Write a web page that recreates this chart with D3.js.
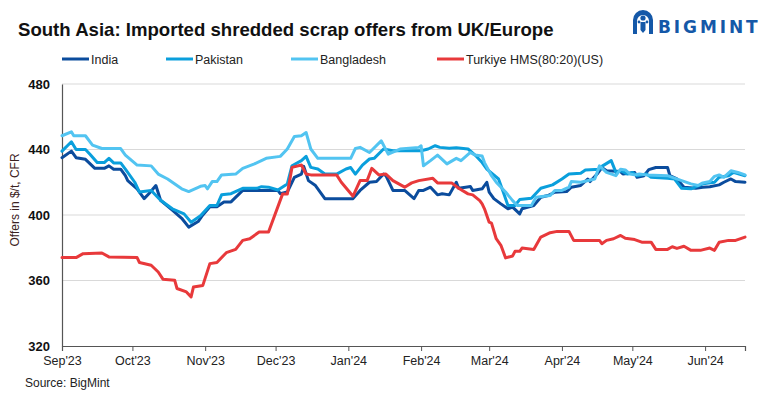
<!DOCTYPE html>
<html>
<head>
<meta charset="utf-8">
<script src="https://cdn.jsdelivr.net/npm/d3@7"></script>
<style>
  body { margin: 0; background: #fff; }
  svg { display: block; }
</style>
</head>
<body>
<svg width="768" height="398"></svg>
<script>
// series values, [date, $/t]
const india = [
  ["2023-09-01",435],["2023-09-05",439],["2023-09-07",435],["2023-09-11",434],["2023-09-15",428.5],
  ["2023-09-19",428.5],["2023-09-21",430],["2023-09-23",428],["2023-09-26",428],["2023-09-28",424],
  ["2023-09-29",421],["2023-10-03",416],["2023-10-06",410],["2023-10-08",413],["2023-10-11",418],
  ["2023-10-13",409],["2023-10-18",403],["2023-10-22",398],["2023-10-25",392.6],["2023-10-29",396],
  ["2023-10-31",400],["2023-11-03",405],["2023-11-06",405],["2023-11-09",408],["2023-11-12",408],
  ["2023-11-17",415],["2023-11-22",415],["2023-12-02",415],["2023-12-03",413],["2023-12-06",414],
  ["2023-12-09",423],["2023-12-12",425],["2023-12-13",429.7],["2023-12-15",421],["2023-12-18",418],
  ["2023-12-22",410],["2023-12-31",410],["2024-01-03",410],["2024-01-06",415],["2024-01-10",420],
  ["2024-01-13",420.4],["2024-01-16",425],["2024-01-17",424],["2024-01-20",415],["2024-01-25",415],
  ["2024-01-29",410],["2024-01-31",415],["2024-02-02",415],["2024-02-05",417],["2024-02-08",412.3],
  ["2024-02-10",413],["2024-02-13",412.3],["2024-02-16",420],["2024-02-17",416.3],["2024-02-20",417],
  ["2024-02-22",417.4],["2024-02-23",415],["2024-02-27",416],["2024-02-29",420],["2024-03-01",414],
  ["2024-03-03",410],["2024-03-06",406.8],["2024-03-09",403.8],["2024-03-11",404.8],["2024-03-14",400.7],
  ["2024-03-15",403.8],["2024-03-20",405.8],["2024-03-23",410.8],["2024-03-26",411.9],["2024-03-29",413.9],
  ["2024-04-03",414.3],["2024-04-05",417],["2024-04-09",418],["2024-04-12",422],["2024-04-13",420.4],
  ["2024-04-16",425],["2024-04-18",429],["2024-04-20",427],["2024-04-26",426.5],["2024-04-27",425],
  ["2024-05-02",426],["2024-05-03",423],["2024-05-06",424],["2024-05-08",427.7],["2024-05-11",429],
  ["2024-05-16",429],["2024-05-17",424],["2024-05-20",422],["2024-05-23",417],["2024-05-28",416.3],
  ["2024-05-31",417],["2024-06-03",417.3],["2024-06-07",418.4],["2024-06-09",420],["2024-06-12",422],
  ["2024-06-14",420.4],["2024-06-18",420]
];

const pakistan = [
  ["2023-09-01",439],["2023-09-05",444.7],["2023-09-07",440],["2023-09-11",440],["2023-09-13",437],
  ["2023-09-16",432],["2023-09-19",432],["2023-09-21",434.6],["2023-09-23",431.8],["2023-09-26",431.8],
  ["2023-09-28",428],["2023-10-02",420],["2023-10-04",414],["2023-10-09",415],["2023-10-13",409],
  ["2023-10-18",403.8],["2023-10-23",400.7],["2023-10-26",395.6],["2023-10-30",399.5],["2023-11-03",405.8],
  ["2023-11-06",405.8],["2023-11-08",412.3],["2023-11-12",413],["2023-11-17",416.3],["2023-11-23",416.3],
  ["2023-11-25",417.3],["2023-11-28",417],["2023-12-02",415.3],["2023-12-06",419],["2023-12-08",430.1],
  ["2023-12-12",433.2],["2023-12-14",435.8],["2023-12-16",429.1],["2023-12-19",428.1],["2023-12-22",425],
  ["2023-12-27",425],["2023-12-31",428.1],["2024-01-02",429],["2024-01-04",425],["2024-01-07",430.5],
  ["2024-01-10",434.2],["2024-01-12",434.6],["2024-01-16",440.3],["2024-01-20",439.2],["2024-02-01",439.2],
  ["2024-02-04",440.3],["2024-02-07",442.3],["2024-02-09",441.3],["2024-02-13",440.7],["2024-02-16",441],
  ["2024-02-21",440.3],["2024-02-24",436.6],["2024-02-27",432],["2024-02-29",428],["2024-03-05",422],
  ["2024-03-07",414],["2024-03-09",405.8],["2024-03-12",405.8],["2024-03-14",409.4],["2024-03-19",410.2],
  ["2024-03-23",416.3],["2024-03-28",418.4],["2024-04-01",422],["2024-04-04",425],["2024-04-09",425.5],
  ["2024-04-11",427.5],["2024-04-17",428],["2024-04-18",429.7],["2024-04-22",433.2],["2024-04-24",426],
  ["2024-04-26",427.1],["2024-04-29",425],["2024-05-01",426],["2024-05-03",424],["2024-05-07",425],
  ["2024-05-09",423],["2024-05-16",422.4],["2024-05-19",422],["2024-05-22",416.3],["2024-05-26",416],
  ["2024-05-31",419],["2024-06-05",420],["2024-06-07",423],["2024-06-11",424],["2024-06-13",426],
  ["2024-06-18",424]
];

const bangladesh = [
  ["2023-09-01",448.4],["2023-09-05",450.8],["2023-09-06",448.4],["2023-09-11",448.4],["2023-09-14",442.7],
  ["2023-09-18",440.6],["2023-09-26",440.6],["2023-09-28",436.6],["2023-10-03",430.5],["2023-10-09",430],
  ["2023-10-12",425],["2023-10-16",422],["2023-10-22",416],["2023-10-25",414.3],["2023-10-30",417.5],
  ["2023-11-01",418],["2023-11-02",416],["2023-11-04",420.4],["2023-11-06",420.4],["2023-11-08",424.5],
  ["2023-11-14",425],["2023-11-17",428.5],["2023-11-22",431.2],["2023-11-27",434.6],["2023-12-03",435.8],
  ["2023-12-06",440.3],["2023-12-09",448],["2023-12-12",448.4],["2023-12-14",450.4],["2023-12-16",440.3],
  ["2023-12-19",434.6],["2024-01-02",434.6],["2024-01-04",440.6],["2024-01-06",441.3],["2024-01-10",438.2],
  ["2024-01-15",445.3],["2024-01-18",437.2],["2024-01-23",440.3],["2024-01-31",441.3],["2024-02-01",442.3],
  ["2024-02-02",430.1],["2024-02-05",433.2],["2024-02-08",436.6],["2024-02-12",431.2],["2024-02-16",434.6],
  ["2024-02-18",433.2],["2024-02-22",438.2],["2024-02-24",436.6],["2024-02-27",436],["2024-02-28",432],
  ["2024-03-02",424],["2024-03-04",420],["2024-03-08",414],["2024-03-11",408.8],["2024-03-13",405.8],
  ["2024-03-19",405.8],["2024-03-21",410.8],["2024-03-27",411.9],["2024-03-29",415],["2024-04-01",415],
  ["2024-04-04",417],["2024-04-05",420.4],["2024-04-09",420],["2024-04-15",422],["2024-04-17",430],
  ["2024-04-20",426],["2024-04-24",424],["2024-04-26",428],["2024-04-28",427.5],["2024-04-30",425],
  ["2024-05-02",424.5],["2024-05-04",425],["2024-05-07",424.5],["2024-05-16",424],["2024-05-22",421],
  ["2024-05-26",419],["2024-05-29",418],["2024-05-31",419.6],["2024-06-03",420.4],["2024-06-05",423.6],
  ["2024-06-07",424.5],["2024-06-09",423],["2024-06-12",427],["2024-06-15",426],["2024-06-18",424.5]
];

const turkiye = [
  ["2023-09-01",374],["2023-09-07",374],["2023-09-10",376.4],["2023-09-18",376.8],["2023-09-21",374.4],
  ["2023-10-03",374],["2023-10-04",371],["2023-10-09",369.3],["2023-10-12",365.2],["2023-10-14",360.8],
  ["2023-10-19",360.2],["2023-10-20",355.1],["2023-10-24",353],["2023-10-26",350],["2023-10-27",356],
  ["2023-10-31",357],["2023-11-03",370.3],["2023-11-06",371],["2023-11-10",377],["2023-11-14",379],
  ["2023-11-17",384.5],["2023-11-20",385.5],["2023-11-24",389.6],["2023-11-28",389.6],["2023-12-04",412.9],
  ["2023-12-06",412.9],["2023-12-08",429.1],["2023-12-12",430.5],["2023-12-14",425],["2023-12-16",424.5],
  ["2023-12-27",424.5],["2023-12-29",420],["2024-01-03",411.5],["2024-01-06",421],["2024-01-09",421],
  ["2024-01-11",428.5],["2024-01-14",424.5],["2024-01-17",425],["2024-01-20",421],["2024-01-25",417],
  ["2024-01-28",419.6],["2024-01-31",421],["2024-02-06",422.4],["2024-02-08",419.6],["2024-02-14",419.6],
  ["2024-02-17",416.3],["2024-02-21",412.9],["2024-02-23",412.3],["2024-02-26",408.8],["2024-02-27",406.8],
  ["2024-02-28",403.8],["2024-03-01",395.6],["2024-03-02",395],["2024-03-04",385.5],["2024-03-06",381.5],
  ["2024-03-08",373.8],["2024-03-11",375],["2024-03-12",377.8],["2024-03-14",377.8],["2024-03-15",379.8],
  ["2024-03-20",379],["2024-03-23",386.5],["2024-03-27",389.2],["2024-03-30",390],["2024-04-04",390],
  ["2024-04-06",384.5],["2024-04-17",384.5],["2024-04-18",382.5],["2024-04-20",384.5],["2024-04-23",385.5],
  ["2024-04-26",387.5],["2024-04-28",385.8],["2024-05-02",385],["2024-05-05",383.4],["2024-05-09",383.4],
  ["2024-05-11",379],["2024-05-16",379],["2024-05-18",380.6],["2024-05-20",379.6],["2024-05-23",380.9],
  ["2024-05-26",378.4],["2024-05-30",378.4],["2024-06-03",379.8],["2024-06-05",378.4],["2024-06-07",383.4],
  ["2024-06-11",384.5],["2024-06-14",384.5],["2024-06-18",386.5]
];

const seriesNames = ["India", "Pakistan", "Bangladesh", "Turkiye HMS(80:20)(US)"];
const seriesColors = ["#0b4c9d", "#0a9fdc", "#52c4f1", "#e8393b"];
const yTicks = [320, 360, 400, 440, 480];

const parse = d3.timeParse("%Y-%m-%d");
let svg = d3.select("svg");

let x = d3.scaleTime()
    .domain([parse("2023-09-01"), parse("2024-06-18")])
    .range([62, 745]);
let y = d3.scaleLinear()
    .domain([320, 480])
    .range([346, 84]);

// title
svg.append("text")
    .attr("x", 18).attr("y", 36)
    .attr("font-family", "Liberation Sans, Arial, sans-serif")
    .attr("font-weight", "bold")
    .attr("font-size", 18.6)
    .attr("fill", "#111")
    .text("South Asia: Imported shredded scrap offers from UK/Europe");

// logo
let logo = svg.append("g").attr("transform", "translate(633,10)");
logo.append("path")
    .attr("d", "M0 24 L0 10 A10 10 0 0 1 20 10 L20 24 L16 24 L16 11 A6 6 0 0 0 4 11 L4 24 Z")
    .attr("fill", "#1458a8");
logo.append("circle").attr("cx", 10).attr("cy", 8).attr("r", 2.6).attr("fill", "#1458a8");
logo.append("path").attr("d", "M7.5 12 L12.5 12 L12.5 20 L10 23 L7.5 20 Z").attr("fill", "#1458a8");
logo.append("circle").attr("cx", 6).attr("cy", 12).attr("r", 1.4).attr("fill", "#1458a8");
logo.append("circle").attr("cx", 14).attr("cy", 12).attr("r", 1.4).attr("fill", "#1458a8");
svg.append("text")
    .attr("x", 658).attr("y", 33)
    .attr("font-family", "DejaVu Sans, sans-serif")
    .attr("font-weight", "bold")
    .attr("font-size", 17)
    .attr("letter-spacing", 2.9)
    .attr("fill", "#1458a8")
    .text("BIGMINT");

// legend
let legendX = [62, 166, 291, 437];
let legend = svg.append("g");
seriesNames.forEach((name, i) => {
    legend.append("line")
        .attr("x1", legendX[i]).attr("x2", legendX[i] + 27)
        .attr("y1", 59).attr("y2", 59)
        .attr("stroke", seriesColors[i])
        .attr("stroke-width", 3);
    legend.append("text")
        .attr("x", legendX[i] + 29).attr("y", 63.5)
        .attr("font-family", "Liberation Sans, Arial, sans-serif")
        .attr("font-size", 12.5)
        .attr("fill", "#222")
        .text(name);
});

// gridlines
svg.append("g")
    .selectAll("line")
    .data(yTicks.filter(d => d > 320))
    .enter().append("line")
    .attr("x1", 62).attr("x2", 745)
    .attr("y1", d => y(d)).attr("y2", d => y(d))
    .attr("stroke", "#d9d9d9")
    .attr("stroke-width", 1);

// y axis
let yAxis = svg.append("g")
    .attr("transform", "translate(62,0)")
    .call(d3.axisLeft(y).tickValues(yTicks).tickSize(0).tickPadding(12));
yAxis.select(".domain").attr("stroke", "#555").attr("stroke-width", 1.2);
yAxis.selectAll("text")
    .attr("font-family", "Liberation Sans, Arial, sans-serif")
    .attr("font-weight", "bold")
    .attr("font-size", 13)
    .attr("fill", "#111");

// x axis
let xAxis = svg.append("g")
    .attr("transform", "translate(0,346)")
    .call(d3.axisBottom(x)
        .ticks(d3.timeMonth.every(1))
        .tickFormat(d3.timeFormat("%b'%y"))
        .tickSizeOuter(0)
        .tickSize(5)
        .tickPadding(5));
xAxis.select(".domain").attr("stroke", "#555").attr("stroke-width", 1.2);
xAxis.selectAll(".tick line").attr("stroke", "#555");
xAxis.selectAll("text")
    .attr("font-family", "Liberation Sans, Arial, sans-serif")
    .attr("font-size", 12.5)
    .attr("fill", "#222");

// y axis title
svg.append("text")
    .attr("transform", "translate(19,200) rotate(-90)")
    .attr("text-anchor", "middle")
    .attr("font-family", "Liberation Sans, Arial, sans-serif")
    .attr("font-size", 12)
    .attr("fill", "#3b2222")
    .text("Offers in $/t, CFR");

// source
svg.append("text")
    .attr("x", 25).attr("y", 387)
    .attr("font-family", "Liberation Sans, Arial, sans-serif")
    .attr("font-size", 12)
    .attr("fill", "#222")
    .text("Source: BigMint");

// lines
let line = d3.line()
    .x(d => x(parse(d[0])))
    .y(d => y(d[1]));

svg.append("g")
    .selectAll("path")
    .data([india, pakistan, bangladesh, turkiye])
    .enter().append("path")
    .attr("d", line)
    .attr("fill", "none")
    .attr("stroke", (d, i) => seriesColors[i])
    .attr("stroke-width", 3)
    .attr("stroke-linejoin", "round")
    .attr("stroke-linecap", "round");
</script>
</body>
</html>
